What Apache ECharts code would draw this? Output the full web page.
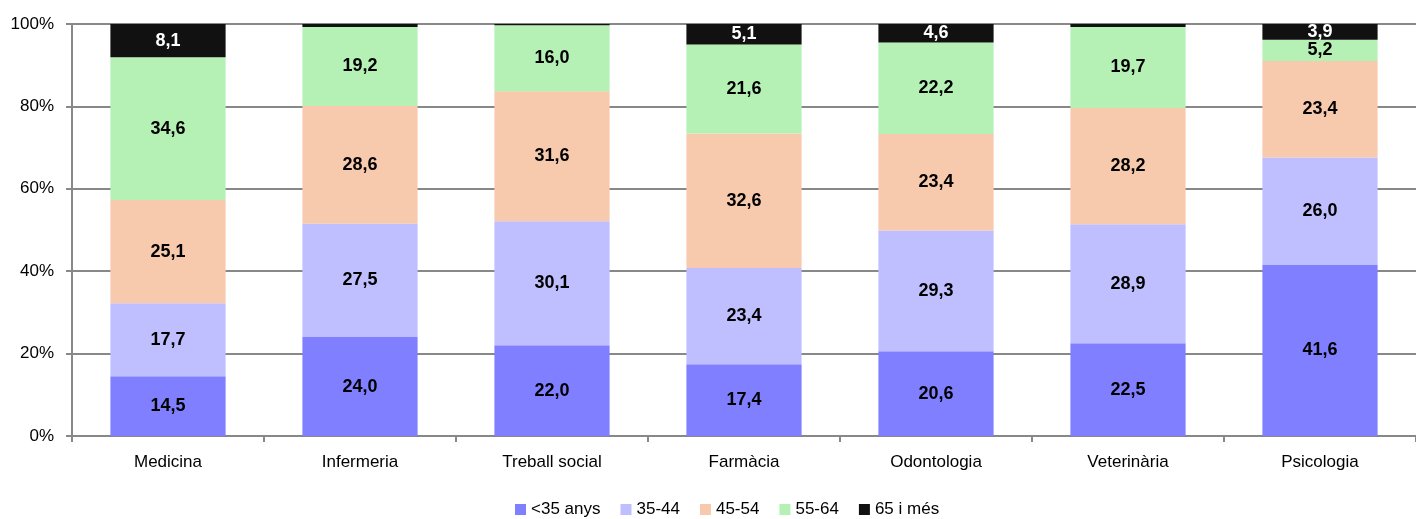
<!DOCTYPE html>
<html><head><meta charset="utf-8">
<script src="https://cdn.jsdelivr.net/npm/echarts@6/dist/echarts.min.js"></script>
<style>html,body{margin:0;padding:0;background:#fff}#c{width:1416px;height:519px}</style>
</head><body><div id="c"></div>
<script>
const categories = ['Medicina','Infermeria','Treball social','Farmàcia','Odontologia','Veterinària','Psicologia'];
const seriesNames = ['<35 anys','35-44','45-54','55-64','65 i més'];
const under35 = [14.5, 24.0, 22.0, 17.4, 20.6, 22.5, 41.6];
const age35_44 = [17.7, 27.5, 30.1, 23.4, 29.3, 28.9, 26.0];
const age45_54 = [25.1, 28.6, 31.6, 32.6, 23.4, 28.2, 23.4];
const age55_64 = [34.6, 19.2, 16.0, 21.6, 22.2, 19.7, 5.2];
const over65 = [8.1, 0.7, 0.3, 5.1, 4.6, 0.7, 3.9];
const yTicks = ['0%','20%','40%','60%','80%','100%'];

const colors = ['#7f7fff','#bfbfff','#f7c9ad','#b5f0b5','#111111'];
const labelColors = ['#000','#000','#000','#000','#fff'];
const allData = [under35, age35_44, age45_54, age55_64, over65];
const FONT = 'Liberation Sans, Arial, sans-serif';

const chart = echarts.init(document.getElementById('c'), null, {renderer:'canvas'});
chart.setOption({
  animation:false,
  textStyle:{fontFamily:FONT},
  grid:{left:72, right:-6, top:24, bottom:83},
  legend:{
    bottom:-4, left:510,
    itemWidth:11, itemHeight:11, itemGap:20,
    icon:'rect',
    textStyle:{fontSize:17, color:'#000', fontFamily:FONT},
    data: seriesNames
  },
  xAxis:{
    type:'category', data:categories,
    axisLine:{lineStyle:{color:'#888', width:2}},
    axisTick:{show:true, alignWithLabel:false, length:6, lineStyle:{color:'#888', width:2}},
    axisLabel:{fontSize:17, color:'#000', margin:18, fontFamily:FONT}
  },
  yAxis:{
    type:'value', min:0, max:100, interval:20,
    axisLine:{show:true, lineStyle:{color:'#888', width:2}},
    axisTick:{show:true, length:6, lineStyle:{color:'#888', width:2}},
    axisLabel:{fontSize:17, color:'#000', margin:18, fontFamily:FONT,
      formatter:(v)=>yTicks[Math.round(v/20)]},
    splitLine:{show:true, lineStyle:{color:'#888', width:2}}
  },
  series: seriesNames.map((n,i)=>({
    name:n, type:'bar', stack:'total', barWidth:'60%',
    itemStyle:{color:colors[i]},
    label:{show:true, position:'inside', color:labelColors[i], fontWeight:'bold', fontSize:18,
      fontFamily:FONT,
      formatter:(p)=> p.value < 1 ? '' : p.value.toFixed(1).replace('.',',')},
    data: allData[i]
  }))
});
</script></body></html>
